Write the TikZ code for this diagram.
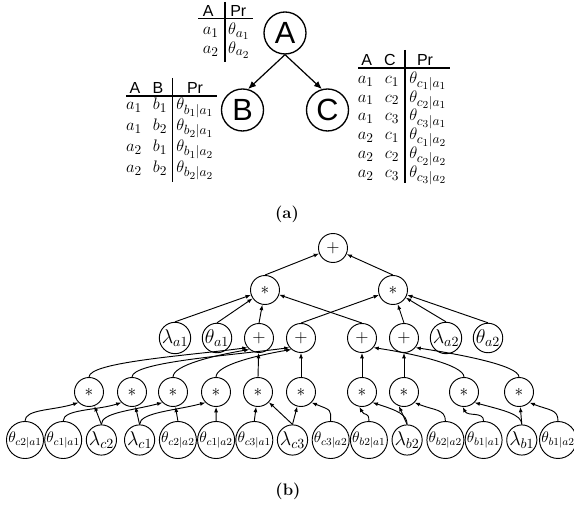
\RequirePackage{fix-cm}
\documentclass[tikz,border=0pt]{standalone}
\usepackage{fontspec}
\newfontfamily\hv{Liberation Sans}
\usetikzlibrary{arrows.meta}
\DeclareMathSizes{12.5}{12.5}{10}{8}
\begin{document}
\begin{tikzpicture}[x=0.75pt,y=0.75pt,
  bn/.style={circle,draw,line width=1pt,minimum size=31.5pt,inner sep=0pt,font=\hv\fontsize{23}{23}\selectfont},
  barr/.style={-{Latex[length=6pt,width=5pt]},line width=0.9pt},
  cell/.style={anchor=base,inner sep=0pt,font=\fontsize{12.5}{12.5}\selectfont},
  hd/.style={anchor=base,inner sep=0pt,font=\hv\fontsize{12}{12}\selectfont},
  tline/.style={line width=0.8pt},
  op/.style={circle,draw,line width=0.7pt,minimum size=21.75pt,inner sep=0pt,font=\fontsize{13}{13}\selectfont},
  lam/.style={op,font=\fontsize{15}{15}\selectfont},
  th/.style={op,font=\fontsize{11.5}{11.5}\selectfont},
  ar/.style={-{Latex[length=4pt,width=3pt]},line width=0.7pt},
  captxt/.style={font=\bfseries\fontsize{12.5}{12.5}\selectfont},
]
\useasboundingbox (0,0) rectangle (574,510);
% ---------- (a) ----------
\node[bn] (A) at (285,477) {A};
\node[bn] (B) at (242.5,400) {B};
\node[bn] (C) at (327.5,400) {C};
\draw[barr] (A.south) -- (B.75);
\draw[barr] (A.south) -- (C.105);
% table A
\node[hd] (tAhA) at (208.3,493.3) {A};
\node[hd] (tAhP) at (238.3,493.3) {Pr};
\node[cell] (tA1a) at (210.7,475) {$a_1$};
\node[cell] (tA1p) at (239,475) {$\theta_{a_1}$};
\node[cell] (tA2a) at (210.7,456.7) {$a_2$};
\node[cell] (tA2p) at (239,456.7) {$\theta_{a_2}$};
\coordinate (tAl) at (198.3,491.5); \coordinate (tAr) at (253.3,491.5);
\coordinate (tAt) at (225,508);     \coordinate (tAb) at (225,448.3);
\draw[tline] (tAl) -- (tAr);
\draw[tline] (tAt) -- (tAb);
% table B
\node[hd] (tBhA) at (135,416) {A};
\node[hd] (tBhB) at (158,416) {B};
\node[hd] (tBhP) at (195,416) {Pr};
\foreach \r/\y/\i/\j in {1/400/1/1,2/379.5/1/2,3/358.5/2/1,4/337.5/2/2}{
  \node[cell] (tB\r-a) at (134,\y) {$a_\i$};
  \node[cell] (tB\r-b) at (160,\y) {$b_\j$};
  \node[cell] (tB\r-p) at (195,\y) {$\theta_{b_\j|a_\i}$};
}
\coordinate (tBl) at (126,414);   \coordinate (tBr) at (216.7,414);
\coordinate (tBt) at (172.3,432); \coordinate (tBb) at (172.3,328);
\draw[tline] (tBl) -- (tBr);
\draw[tline] (tBt) -- (tBb);
% table C
\node[hd] (tChA) at (366.7,444) {A};
\node[hd] (tChC) at (390,444) {C};
\node[hd] (tChP) at (425,444) {Pr};
\foreach \r/\y/\i/\j in {1/426.7/1/1,2/407.9/1/2,3/389.1/1/3,4/370.3/2/1,5/351.5/2/2,6/332.7/2/3}{
  \node[cell] (tC\r-a) at (365.8,\y) {$a_\i$};
  \node[cell] (tC\r-c) at (392,\y) {$c_\j$};
  \node[cell] (tC\r-p) at (428,\y) {$\theta_{c_\j|a_\i}$};
}
\coordinate (tCl) at (358,442);  \coordinate (tCr) at (450,442);
\coordinate (tCt) at (405,460);  \coordinate (tCb) at (405,327);
\draw[tline] (tCl) -- (tCr);
\draw[tline] (tCt) -- (tCb);
\node[captxt] (capa) at (287,296) {(a)};
% ---------- (b) ----------
\node[op] (R) at (333,262) {$+$};
\node[op] (M1) at (265,220) {$\ast$};
\node[op] (M2) at (393,220) {$\ast$};
\node[lam] (la1) at (175,172) {$\lambda_{a1}$};
\node[lam] (ta1) at (217,172) {$\theta_{a1}$};
\node[op] (P1) at (259,172) {$+$};
\node[op] (P2) at (301,172) {$+$};
\node[op] (P3) at (362,172) {$+$};
\node[op] (P4) at (404,172) {$+$};
\node[lam] (la2) at (446,172) {$\lambda_{a2}$};
\node[lam] (ta2) at (488,172) {$\theta_{a2}$};
\foreach \i/\x in {1/89,2/132,3/173,4/216,5/258,6/301,7/362,8/404,9/464,10/519}
  \node[op] (S\i) at (\x,118) {$\ast$};
\node[th]  (L1)  at (25,70)    {$\theta_{c2|a1}$};
\node[th]  (L2)  at (63.2,70)  {$\theta_{c1|a1}$};
\node[lam] (L3)  at (101.4,70) {$\lambda_{c2}$};
\node[lam] (L4)  at (139.6,70) {$\lambda_{c1}$};
\node[th]  (L5)  at (177.9,70) {$\theta_{c2|a2}$};
\node[th]  (L6)  at (216.1,70) {$\theta_{c1|a2}$};
\node[th]  (L7)  at (254.3,70) {$\theta_{c3|a1}$};
\node[lam] (L8)  at (292.5,70) {$\lambda_{c3}$};
\node[th]  (L9)  at (330.7,70) {$\theta_{c3|a2}$};
\node[th]  (L10) at (368.9,70) {$\theta_{b2|a1}$};
\node[lam] (L11) at (407.1,70) {$\lambda_{b2}$};
\node[th]  (L12) at (445.4,70) {$\theta_{b2|a2}$};
\node[th]  (L13) at (483.6,70) {$\theta_{b1|a1}$};
\node[lam] (L14) at (521.8,70) {$\lambda_{b1}$};
\node[th]  (L15) at (558,70)   {$\theta_{b1|a2}$};
\node[captxt] (capb) at (288,19) {(b)};
% edges top
\draw[ar] (M1.north) -- (R);
\draw[ar] (M2.north) -- (R);
\foreach \n in {la1,ta1,P1,P3} \draw[ar] (\n.north) -- (M1);
\foreach \n in {P2,P4,la2,ta2} \draw[ar] (\n.north) -- (M2);
% stars to plus
\draw[ar] (S5.north) -- (P1);
\draw[ar] (S6.north) -- (P2);
\draw[ar] (S7.north) -- (P3);
\draw[ar] (S8.north) -- (P4);
\draw[ar] (S1.north) .. controls +(0,15) and +(-60,-8) .. (P1.220);
\draw[ar] (S3.north) .. controls +(0,12) and +(-35,-6) .. (P1.230);
\draw[ar] (S2.north) .. controls +(0,15) and +(-60,-8) .. (P2.220);
\draw[ar] (S4.north) .. controls +(0,12) and +(-35,-6) .. (P2.230);
\draw[ar] (S9.north) .. controls +(0,12) and +(40,-6) .. (P3.-40);
\draw[ar] (S10.north) .. controls +(0,12) and +(40,-6) .. (P4.-40);
% leaves to stars
\draw[ar] (L3.north) -- (S1);
\draw[ar] (L4.north) -- (S2);
\draw[ar] (L5.north) -- (S3);
\draw[ar] (L6.north) -- (S4);
\draw[ar] (L7.north) -- (S5);
\draw[ar] (L8.north) -- (S5);
\draw[ar] (L8.north) -- (S6);
\draw[ar] (L11.north) -- (S8.250);
\draw[ar] (L14.north) -- (S10);
\draw[ar] (L1.north) .. controls +(0,12) and +(-25,-8) .. (S1.225);
\draw[ar] (L2.north) .. controls +(0,12) and +(-25,-8) .. (S2.225);
\draw[ar] (L3.north) .. controls +(0,12) and +(-30,-8) .. (S3.225);
\draw[ar] (L4.north) .. controls +(0,12) and +(-30,-8) .. (S4.225);
\draw[ar] (L9.north) .. controls +(0,12) and +(20,-8) .. (S6.-45);
\draw[ar] (L10.north) .. controls +(0,10) and +(5,-10) .. (S7.-100);
\draw[ar] (L11.north) .. controls +(0,10) and +(25,-8) .. (S7.-45);
\draw[ar] (L12.north) .. controls +(0,12) and +(20,-8) .. (S8.-45);
\draw[ar] (L13.north) .. controls +(0,10) and +(5,-10) .. (S9.-95);
\draw[ar] (L14.north) .. controls +(0,10) and +(30,-8) .. (S9.-45);
\draw[ar] (L15.north) .. controls +(0,12) and +(20,-8) .. (S10.-45);
\end{tikzpicture}
\end{document}
